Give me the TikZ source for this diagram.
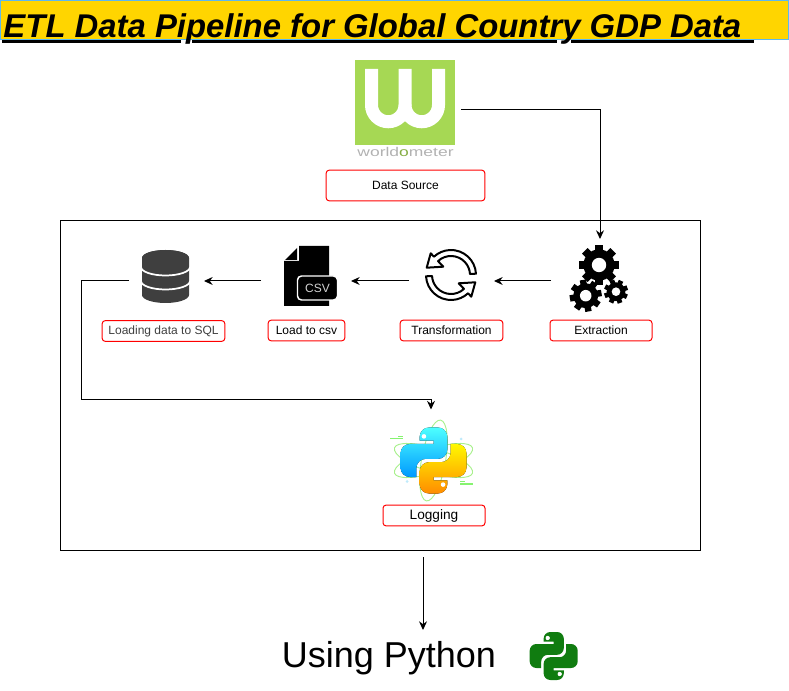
\documentclass[tikz,border=0pt]{standalone}
\usepackage{fontspec}
\setmainfont{Liberation Sans}
\usetikzlibrary{arrows.meta}
\definecolor{banner}{HTML}{FFD500}
\definecolor{bannerline}{HTML}{5CB8F0}
\definecolor{wmgreen}{HTML}{A6D854}
\definecolor{dbgray}{HTML}{3F3F3F}
\definecolor{pygreen}{HTML}{107C10}
\definecolor{orbit}{HTML}{A8F08C}
\newcommand{\cogwheel}[4]{
	\begin{scope}[shift={(#1,#2)}]
		\fill (0,0) circle[radius=#3*.78];
		\foreach \a in {0,45,...,315}
			\fill[rotate=\a+#4] (-#3*.2,0) rectangle (#3*.2,#3);
		\fill[white] (0,0) circle[radius=#3*.36];
	\end{scope}
}
\newcommand{\pysnake}{(-.42,-.6) [rounded corners=0pt] -- (0,-.6) -- (0,-.5) [rounded corners=\pyround] -- (-1,-.5) -- (-1,.5) [rounded corners=0pt] -- (-.52,.5) [rounded corners=\pyround] -- (-.52,-.05) -- (.42,-.05) -- (.42,-1) -- (-.42,-1) [rounded corners=0pt] -- cycle}
\begin{document}
\begin{tikzpicture}[x=.75pt, y=-.75pt, line width=.75pt, >={Stealth[length=6.5pt,width=6pt]},
		tag/.style = {draw=red, rounded corners=2.25pt, inner sep=0pt, minimum height=15.5pt, font=\fontsize{9}{11}\selectfont},
		spot/.style = {inner sep=0pt, outer sep=0pt, minimum width=#1, minimum height=63pt}]
	\useasboundingbox (0,0) rectangle (789,691);

	\fill[banner] (0.5,0.5) rectangle (788.5,40);
	\draw[bannerline] (0.5,0.5) rectangle (788.5,40);
	\node[anchor=base west, inner sep=0pt, font=\fontsize{24.65}{30}\selectfont\bfseries\itshape] (ttl) at (3,37.5) {ETL Data Pipeline for Global Country GDP Data};
	\foreach \a/\b in {2/181, 192/557, 571/754}
		\fill (\a,40.3) rectangle (\b,42.7);

	\node[draw, inner sep=0pt, minimum width=480pt, minimum height=246.75pt] (panel) at (380.5,385.5) {};

	% worldometer
	\fill[wmgreen] (355,60) rectangle (455,145);
	\draw[white, line width=9.75pt] (371.5,69) -- (371.5,105) arc[start angle=180, end angle=0, radius=16.75] -- (405,69);
	\draw[white, line width=9.75pt] (438.5,69) -- (438.5,105) arc[start angle=0, end angle=180, radius=16.75];
	\node[anchor=base, inner sep=0pt, text=gray!60, font=\fontsize{9.5}{11}\selectfont] (wmtext) at (405.5,157) {\scalebox{1.38}[1]{world\textcolor{wmgreen!80!black}{o}meter}};

	% database
	\fill[dbgray] (142,258) arc[start angle=180, end angle=360, x radius=23.5, y radius=8]
		-- (189,295) arc[start angle=0, end angle=180, x radius=23.5, y radius=8] -- cycle;
	\fill[dbgray] (165.5,258) circle[x radius=23.5, y radius=8];
	\draw[white, line width=1.3pt] (141,267) arc[start angle=180, end angle=0, x radius=24.5, y radius=8.5];
	\draw[white, line width=1.3pt] (141,281) arc[start angle=180, end angle=0, x radius=24.5, y radius=8.5];

	% csv file
	\fill (299,246) -- (329,246) -- (329,306) -- (284,306) -- (284,261) -- (299,261) -- cycle;
	\fill (285,260) -- (297,260) -- (297,248) -- cycle;
	\node[fill=black, draw=white, line width=1.1pt, rounded corners=3pt, inner sep=0pt, minimum width=30pt, minimum height=18pt, text=gray!35, font=\fontsize{9}{11}\selectfont] (csvtag) at (317.5,288) {CSV};

	% circular arrows
	\foreach \r in {0,180}
		\draw[shift={(451,275)}, rotate=\r, line width=1.5pt, fill=white, line join=round]
			(-3:25) arc[start angle=-3, end angle=-133, radius=25] -- (-20.3,-21.7) -- (-24.3,-7.3) -- (-7.7,-8.3)
			-- (-133:19) arc[start angle=-133, end angle=-3, radius=19] -- cycle;

	% gears
	\cogwheel{599}{265}{20}{0}
	\cogwheel{585.7}{295.7}{16}{10}
	\cogwheel{616}{291.7}{12}{20}

	% python logo
	\foreach \t in {-18,18,80}
		\draw[orbit, line width=.7pt, rotate around={\t:(433.5,460.5)}] (433.5,460.5) circle[x radius=41, y radius=12];
	\fill[orbit!80!green] (390,438) rectangle (403,439.5);
	\fill[orbit!80!green] (398,436) rectangle (403,437);
	\fill[orbit!80!green] (460,483) rectangle (473,485);
	\fill[orbit!80!green] (460,481) rectangle (465,482);
	\fill[cyan!25] (461,439) circle[radius=1.5];
	\fill[cyan!25] (407,481.5) circle[radius=1.5];
	\def\pyround{7pt}
	\begin{scope}[shift={(433.5,460.5)}, x=24.75pt, y=-24.75pt]
		\fill[top color=cyan!70!white, bottom color=blue!40!cyan] \pysnake;
		\fill[white] (-.29,-.73) circle[radius=.07];
	\end{scope}
	\begin{scope}[shift={(433.5,460.5)}, x=-24.75pt, y=24.75pt]
		\fill[top color=yellow!95!orange, bottom color=orange!90!yellow] \pysnake;
		\fill[white] (-.29,-.73) circle[radius=.07];
	\end{scope}

	\def\pyround{5pt}
	\begin{scope}[shift={(553.7,656)}, x=18pt, y=-18pt]
		\fill[pygreen] \pysnake;
		\fill[white] (-.25,-.75) circle[radius=.09];
	\end{scope}
	\begin{scope}[shift={(553.7,656)}, x=-18pt, y=18pt]
		\fill[pygreen] \pysnake;
		\fill[white] (-.25,-.75) circle[radius=.09];
	\end{scope}

	\node[spot=79.5pt] (wm) at (408,110) {};
	\node[spot=73.5pt] (gears) at (600,281) {};
	\node[spot=63.75pt] (turn) at (451.5,281) {};
	\node[spot=67.5pt] (csv) at (306,281) {};
	\node[spot=56.25pt] (db) at (166.5,281) {};
	\node[spot=60pt] (py) at (431,451.5) {};

	\node[tag, minimum width=119pt, minimum height=23pt] (srctag) at (405.5,185.5) {Data Source};
	\node[tag, minimum width=92pt, text=dbgray] (dbtag) at (163.5,331) {Loading data to SQL};
	\node[tag, minimum width=57.5pt] (filetag) at (306.5,330.5) {Load to csv};
	\node[tag, minimum width=77pt] (turntag) at (451.5,330.5) {Transformation};
	\node[tag, minimum width=76.5pt] (gearstag) at (601,330.5) {Extraction};
	\node[tag, minimum width=76.5pt, font=\fontsize{10.25}{12}\selectfont] (pytag) at (434,515.5) {Logging};

	\coordinate (c1) at (81,400);
	\coordinate (c2) at (423,557);
	\coordinate (c3) at (423,630);

	\draw[->] (wm.east) -| (gears.north);
	\draw[->] (gears.west) to (turn.east);
	\draw[->] (turn.west) to (csv.east);
	\draw[->] (csv.west) to (db.east);
	\draw[->] (db.west) -| (c1) -| (py.north);
	\draw[->] (c2) to (c3);

	\node[anchor=base, inner sep=0pt, font=\fontsize{27}{32}\selectfont] (using) at (389,667.7) {Using Python};
\end{tikzpicture}
\end{document}
